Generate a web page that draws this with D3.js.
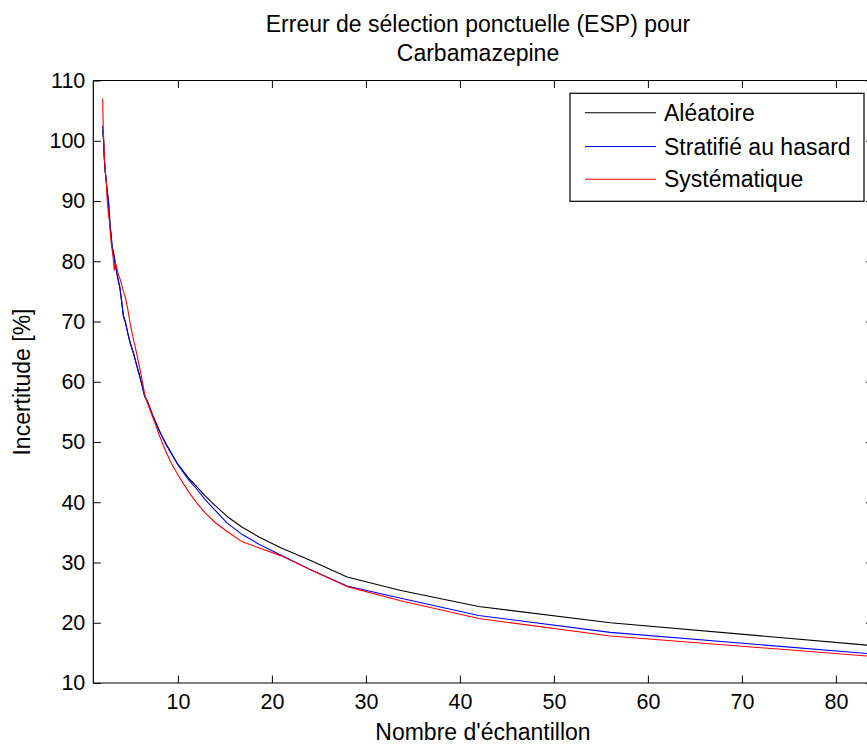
<!DOCTYPE html>
<html>
<head>
<meta charset="utf-8">
<script src="https://cdn.jsdelivr.net/npm/d3@7"></script>
<style>
  body { margin: 0; background: #fff; }
  svg { display: block; }
  text { font-family: "Liberation Sans", Arial, sans-serif; fill: #000; }
</style>
</head>
<body>
<svg id="chart" width="867" height="744"></svg>
<script>
// ---- Data ----
const titleLines = ["Erreur de sélection ponctuelle (ESP) pour", "Carbamazepine"];
const xLabel = "Nombre d'échantillon";
const yLabel = "Incertitude [%]";
const seriesNames = ["Aléatoire", "Stratifié au hasard", "Systématique"];
const seriesColors = ["#000000", "#0000ff", "#ff0000"];
const xTicks = [10, 20, 30, 40, 50, 60, 70, 80];
const yTicks = [10, 20, 30, 40, 50, 60, 70, 80, 90, 100, 110];

const nSamples = [2, 2.05, 2.1, 2.15, 2.21, 2.27, 2.33, 2.4, 2.47, 2.55, 2.63, 2.71, 2.8, 2.9,
  3, 3.11, 3.23, 3.36, 3.5, 3.65, 3.82, 4, 4.2, 4.42, 4.67, 4.94, 5.25, 5.6, 6, 6.46, 6.72,
  7, 7.3, 7.64, 8, 8.4, 8.84, 9.33, 9.88, 10.5, 11.2, 12, 12.92, 14, 15.27, 16.8, 18.67,
  21, 24, 28, 33.6, 42, 56, 84];

const aleatoire = [101.8, 100.8, 99.8, 97.8, 96.0, 94.8, 94.0, 92.8, 91.5, 90.6, 89.5, 87.8, 85.8, 84.2,
  82.5, 81.5, 80.6, 79.2, 78.0, 76.9, 75.6, 73.6, 71.0, 69.9, 68.1, 66.4, 64.9, 62.9, 60.6, 57.6, 56.9,
  55.8, 54.5, 53.3, 52.0, 50.7, 49.4, 48.1, 46.6, 45.3, 43.9, 42.6, 41.0, 39.4, 37.6, 35.9, 34.2,
  32.4, 30.4, 27.6, 25.4, 22.7, 20.0, 16.2];

const stratifie = [102.5, 101.0, 100.2, 97.5, 96.3, 95.0, 94.2, 93.0, 91.8, 91.0, 89.8, 87.5, 85.5, 84.5,
  82.3, 81.8, 80.8, 79.5, 78.2, 76.8, 75.8, 73.5, 70.8, 69.8, 68.0, 66.3, 64.8, 62.8, 60.5, 57.6, 56.8,
  55.7, 54.5, 53.2, 51.9, 50.6, 49.3, 48.0, 46.5, 45.1, 43.6, 42.2, 40.4, 38.6, 36.5, 34.7, 33.0,
  31.2, 28.9, 26.1, 24.1, 21.2, 18.4, 14.8];

const systematique = [107.0, 102.5, 100.5, 98.5, 96.5, 95.0, 94.0, 93.0, 90.2, 89.0, 87.5, 86.8, 85.0, 83.0,
  82.0, 80.5, 78.5, 79.8, 79.0, 77.8, 77.2, 76.2, 75.0, 74.0, 72.0, 69.5, 67.2, 64.8, 61.8, 58.0, 56.6,
  55.5, 54.2, 52.8, 51.2, 49.6, 48.0, 46.4, 44.9, 43.3, 41.6, 39.9, 38.2, 36.6, 35.1, 33.5, 32.4,
  31.1, 28.9, 26.0, 23.7, 20.7, 17.8, 14.4];

const seriesValues = [aleatoire, stratifie, systematique];

// ---- Layout ----
const svg = d3.select("#chart");
const plot = { left: 93.3, right: 873.5, top: 80.5, bottom: 683 };
const x = d3.scaleLinear().domain([1, 84]).range([plot.left, plot.right]);
const y = d3.scaleLinear().domain([10, 110]).range([plot.bottom, plot.top]);
const tickLen = 7.5;
const tickFont = 21.5;
const labelFont = 23;

// Lines
const line = d3.line().x((d, i) => x(nSamples[i])).y(d => y(d));
seriesValues.forEach((vals, si) => {
  svg.append("path").datum(vals)
    .attr("d", line)
    .attr("fill", "none")
    .attr("stroke", seriesColors[si])
    .attr("stroke-width", 1.1)
    .attr("stroke-linejoin", "round");
});

// Axes (ticks inward, box)
const bottomAxis = d3.axisBottom(x).tickValues(xTicks).tickSize(-tickLen).tickPadding(11).tickFormat(d3.format("d"));
const topAxis = d3.axisTop(x).tickValues(xTicks).tickSize(-tickLen).tickFormat("");
const leftAxis = d3.axisLeft(y).tickValues(yTicks).tickSize(-tickLen).tickPadding(8).tickFormat(d3.format("d"));
const rightAxis = d3.axisRight(y).tickValues(yTicks).tickSize(-tickLen).tickFormat("");

function styleAxis(g) {
  g.attr("font-family", null).attr("font-size", null);
  g.selectAll(".domain").attr("stroke", "#000").attr("stroke-width", 1.2);
  g.selectAll(".tick line").attr("stroke", "#000").attr("stroke-width", 1);
  g.selectAll(".tick text").attr("font-size", tickFont).attr("fill", "#000");
}

svg.append("g").attr("transform", `translate(0,${plot.bottom})`).call(bottomAxis).call(styleAxis)
  .call(g => g.select(".domain").attr("d", `M${plot.left},0H${plot.right}`));
svg.append("g").attr("transform", `translate(0,${plot.top})`).call(topAxis).call(styleAxis)
  .call(g => g.select(".domain").attr("d", `M${plot.left},0H${plot.right}`));
svg.append("g").attr("transform", `translate(${plot.left},0)`).call(leftAxis).call(styleAxis)
  .call(g => g.select(".domain").attr("d", `M0,${plot.top}V${plot.bottom}`));
svg.append("g").attr("transform", `translate(${plot.right},0)`).call(rightAxis).call(styleAxis)
  .call(g => g.select(".domain").attr("d", `M0,${plot.top}V${plot.bottom}`));

// Title
svg.append("g").selectAll("text").data(titleLines).join("text")
  .attr("x", 478).attr("y", (d, i) => 32 + i * 29)
  .attr("text-anchor", "middle").attr("font-size", labelFont)
  .text(d => d);

// Axis labels
svg.append("text").attr("x", 483).attr("y", 740)
  .attr("text-anchor", "middle").attr("font-size", labelFont).text(xLabel);
svg.append("text").attr("transform", `translate(30,382) rotate(-90)`)
  .attr("text-anchor", "middle").attr("font-size", labelFont).text(yLabel);

// Legend
const legend = { x: 570, y: 93.3, w: 294, h: 108, rowY: [112.7, 146.5, 179.3] };
svg.append("rect").attr("x", legend.x).attr("y", legend.y)
  .attr("width", legend.w).attr("height", legend.h)
  .attr("fill", "#fff").attr("stroke", "#000").attr("stroke-width", 1.2);
seriesNames.forEach((name, i) => {
  svg.append("line").attr("x1", 585).attr("x2", 656)
    .attr("y1", legend.rowY[i]).attr("y2", legend.rowY[i])
    .attr("stroke", seriesColors[i]).attr("stroke-width", 1.1);
  svg.append("text").attr("x", 664).attr("y", legend.rowY[i] + 8)
    .attr("font-size", labelFont).text(name);
});
</script>
</body>
</html>
